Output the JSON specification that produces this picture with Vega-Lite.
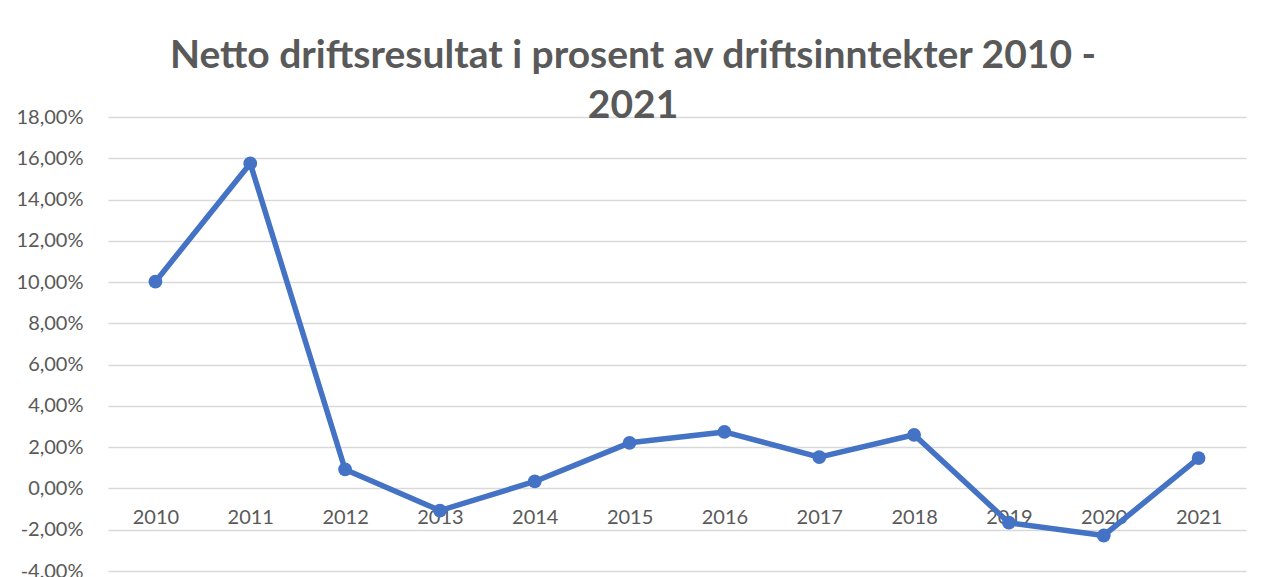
{
  "$schema": "https://vega.github.io/schema/vega-lite/v6.json",
  "width": 1138,
  "height": 454,
  "autosize": "none",
  "padding": {"left": 108, "top": 117, "right": 17, "bottom": 6},
  "background": "white",
  "config": {
    "locale": {"number": {"decimal": ",", "thousands": " ", "grouping": [3], "currency": ["", " kr"], "minus": "-"}},
    "view": {"stroke": null},
    "font": "Lato"
  },
  "title": {
    "text": ["Netto driftsresultat i prosent av driftsinntekter 2010 -", "2021"],
    "font": "Lato",
    "fontSize": 39,
    "fontWeight": "bold",
    "color": "#595959",
    "anchor": "middle",
    "dx": -44,
    "lineHeight": 50,
    "offset": -19
  },
  "data": {
    "values": [
      {"year": "2010", "value": 0.1002},
      {"year": "2011", "value": 0.1575},
      {"year": "2012", "value": 0.0092},
      {"year": "2013", "value": -0.0107},
      {"year": "2014", "value": 0.0034},
      {"year": "2015", "value": 0.0221},
      {"year": "2016", "value": 0.0274},
      {"year": "2017", "value": 0.0152},
      {"year": "2018", "value": 0.0260},
      {"year": "2019", "value": -0.0166},
      {"year": "2020", "value": -0.0228},
      {"year": "2021", "value": 0.0147}
    ]
  },
  "encoding": {
    "x": {
      "field": "year",
      "type": "ordinal",
      "scale": {"type": "point", "padding": 0.5},
      "axis": {
        "title": null,
        "labelAngle": 0,
        "domain": false,
        "ticks": false,
        "grid": false,
        "offset": -83,
        "labelPadding": 19,
        "labelFontSize": 20,
        "labelColor": "#595959",
        "labelFont": "Lato"
      }
    },
    "y": {
      "field": "value",
      "type": "quantitative",
      "scale": {"domain": [-0.04, 0.18], "nice": false, "zero": false},
      "axis": {
        "title": null,
        "format": ".2%",
        "values": [-0.04, -0.02, 0, 0.02, 0.04, 0.06, 0.08, 0.1, 0.12, 0.14, 0.16, 0.18],
        "domain": false,
        "ticks": false,
        "gridColor": "#d9d9d9",
        "gridWidth": 1.5,
        "labelPadding": 25,
        "labelFontSize": 20,
        "labelColor": "#595959",
        "labelFont": "Lato"
      }
    }
  },
  "layer": [
    {"mark": {"type": "line", "color": "#4472C4", "strokeWidth": 5.5, "strokeJoin": "round"}},
    {"mark": {"type": "point", "filled": true, "color": "#4472C4", "opacity": 1, "size": 190}}
  ]
}
